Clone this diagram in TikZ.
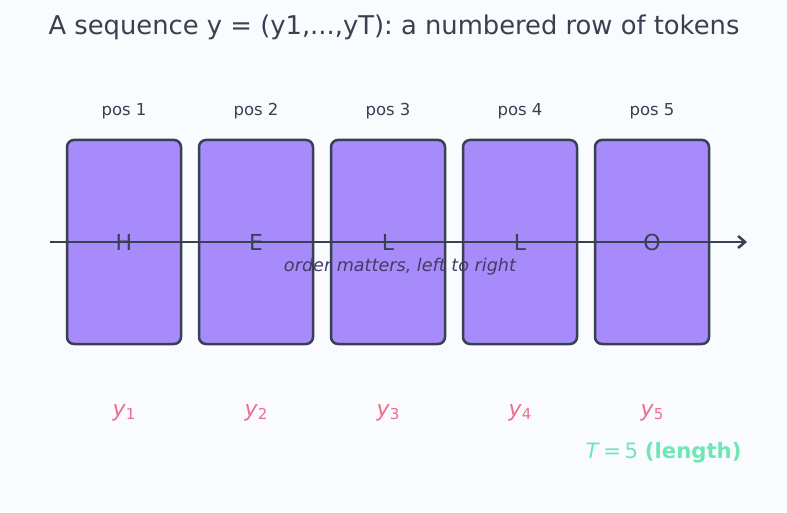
\documentclass[tikz,border=0pt]{standalone}
\usepackage{fontspec}
\setmainfont{DejaVu Sans}
\usetikzlibrary{arrows.meta}
\definecolor{bgc}{HTML}{FAFBFE}
\definecolor{ink}{HTML}{374151}
\definecolor{boxfill}{HTML}{A78BFA}
\definecolor{ylab}{HTML}{EE6D8A}
\definecolor{tlab}{HTML}{6EE7B7}
\definecolor{ordc}{HTML}{403D66}
\begin{document}
\begin{tikzpicture}[x=1pt,y=1pt,
  tokbox/.style={draw=ink, fill=boxfill, line width=2.5pt, rounded corners=7pt,
    minimum width=114pt, minimum height=204pt, inner sep=0pt,
    font=\fontsize{22}{26}\selectfont, text=ink},
  poslab/.style={font=\fontsize{16.5}{20}\selectfont, text=ink},
  ylabel/.style={font=\fontsize{22}{26}\selectfont, text=ylab}]
\fill[bgc] (0,0) rectangle (787,512);
\useasboundingbox (0,0) rectangle (787,512);
\node[font=\fontsize{25.8}{30}\selectfont, text=ink] (title) at (394,485) {A sequence y = (y1,...,yT): a numbered row of tokens};
\foreach \i/\x/\c in {1/124/H,2/256/E,3/388/L,4/520/L,5/652/O}{
  \node[tokbox] (b\i) at (\x,270) {\phantom{\c}};
  \node[poslab] (p\i) at (\x,401) {pos \i};
  \node[ylabel] (y\i) at (\x,99) {\textit{y}\raisebox{-0.25ex}{\fontsize{15}{18}\selectfont\i}};
}
\coordinate (as) at (50,270);
\coordinate (ae) at (747,270);
\draw[ink, line width=2.5pt, -{Straight Barb[length=7pt,width=12pt,line width=2.5pt]}] (as) -- (ae);
\foreach \i/\c in {1/H,2/E,3/L,4/L,5/O}{
  \node[font=\fontsize{22}{26}\selectfont, text=ink] (t\i) at (b\i.center) {\c};
}
\node[font=\fontsize{17.6}{21}\selectfont\itshape, text=ordc] (ord) at (400,245) {order matters, left to right};
\node[font=\fontsize{21.2}{25}\selectfont, text=tlab, anchor=east] (tl) at (745,59) {\textit{T}\,=\,5 \textbf{(length)}};
\end{tikzpicture}
\end{document}
